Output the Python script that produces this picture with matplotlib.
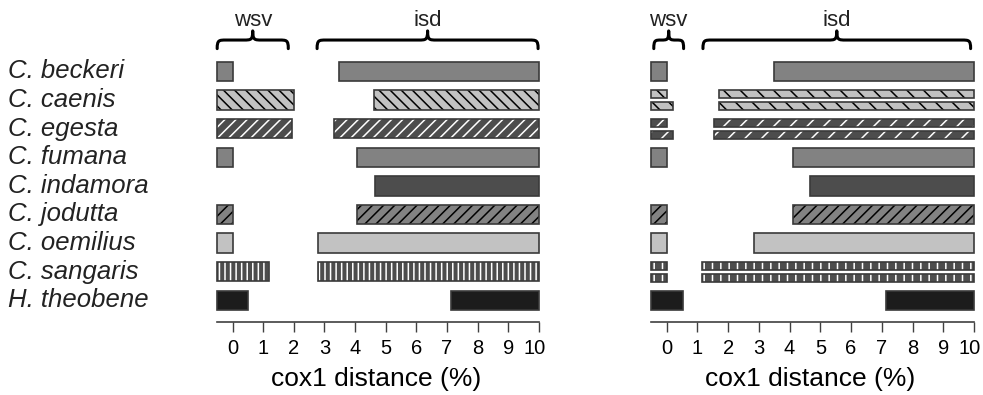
import numpy as np
import matplotlib
matplotlib.use("Agg")
import matplotlib.pyplot as plt
from matplotlib.path import Path
from matplotlib.patches import PathPatch
from matplotlib.transforms import blended_transform_factory, ScaledTranslation

plt.rcParams['font.family'] = ['Liberation Sans', 'DejaVu Sans']
plt.rcParams['hatch.linewidth'] = 1.1

# data
species = ["C. beckeri", "C. caenis", "C. egesta", "C. fumana", "C. indamora",
           "C. jodutta", "C. oemilius", "C. sangaris", "H. theobene"]
wsv_lo = -0.5
isd_hi = 10.0

# left panel: one bar per species
left_wsv_hi = [0.0, 2.02, 1.95, 0.0, np.nan, 0.0, 0.0, 1.19, 0.50]
left_isd_lo = [3.48, 4.63, 3.31, 4.07, 4.66, 4.07, 2.80, 2.80, 7.12]

# right panel: some species split into two sub-bars
right_wsv_hi = [[0.0], [0.0, 0.20], [0.0, 0.20], [0.0], [], [0.0], [0.0], [0.0, 0.0], [0.54]]
right_isd_lo = [[3.50], [1.70, 1.70], [1.54, 1.54], [4.10], [4.67], [4.10], [2.83],
                [1.16, 1.16], [7.13]]

# styles: face colour, hatch (left, right), hatch colour
faces = ["#828282", "#c2c2c2", "#4d4d4d", "#828282", "#4d4d4d",
         "#828282", "#c2c2c2", "#4d4d4d", "#1c1c1c"]
hatch_l = [None, "\\\\\\", "///", None, None, "///", None, "|||", None]
hatch_r = [None, "\\\\", "//", None, None, "///", None, "||", None]
hatch_c = [None, "black", "white", None, None, "black", None, "white", None]
edge = "#3a3a3a"

W, H = 983, 395
fig = plt.figure(figsize=(W / 100, H / 100), dpi=100)


def make_axes(left, right, x0px, scale):
    ax = fig.add_axes([left / W, 1 - 322 / H, (right - left) / W, (322 - 5) / H])
    ax.set_xlim((left - x0px) / scale, (right - x0px) / scale)
    ax.set_ylim(8.759, -2.325)
    for s in ["left", "top", "right"]:
        ax.spines[s].set_visible(False)
    ax.spines["bottom"].set_bounds(-0.5, 10)
    ax.spines["bottom"].set_color("#404040")
    ax.spines["bottom"].set_linewidth(1.2)
    ax.set_yticks([])
    ax.set_xticks(range(11))
    ax.tick_params(axis="x", length=7.5, width=1, color="#404040", labelsize=14.5, pad=5)
    ax.set_xlabel("cox1 distance (%)", fontsize=19, labelpad=6)
    return ax


def bar(ax, y, lo, hi, h, i, hatch):
    if hatch:
        ax.barh(y, hi - lo, left=lo, height=h, color=faces[i], edgecolor=hatch_c[i],
                hatch=hatch, linewidth=0)
        ax.barh(y, hi - lo, left=lo, height=h, fill=False, edgecolor=edge, linewidth=1.2)
    else:
        ax.barh(y, hi - lo, left=lo, height=h, color=faces[i], edgecolor=edge, linewidth=1.2)


def brace(ax, x0, x1, label, scale):
    yt, yl, yp = -0.80, -1.10, -1.42
    xm = (x0 + x1) / 2
    r = min(9 / scale, (xm - x0) / 2)
    verts = [(x0, yt), (x0, yl), (x0 + 0.2 * r, yl), (x0 + r, yl),
             (xm - r, yl),
             (xm - 0.2 * r, yl), (xm, yl), (xm, yp),
             (xm, yl), (xm + 0.2 * r, yl), (xm + r, yl),
             (x1 - r, yl),
             (x1 - 0.2 * r, yl), (x1, yl), (x1, yt)]
    codes = [Path.MOVETO, Path.CURVE4, Path.CURVE4, Path.CURVE4,
             Path.LINETO,
             Path.CURVE4, Path.CURVE4, Path.CURVE4,
             Path.CURVE4, Path.CURVE4, Path.CURVE4,
             Path.LINETO,
             Path.CURVE4, Path.CURVE4, Path.CURVE4]
    ax.add_patch(PathPatch(Path(verts, codes), fill=False, lw=2.2, color="black",
                           capstyle="round", joinstyle="round", clip_on=False))
    ax.text(xm, -1.80, label, ha="center", va="center", fontsize=16, color="#222222")


ax_l = make_axes(205, 548, 232.5, 30.65)
ax_r = make_axes(640, 980, 666.7, 30.73)

for i in range(len(species)):
    if not np.isnan(left_wsv_hi[i]):
        bar(ax_l, i, wsv_lo, left_wsv_hi[i], 0.68, i, hatch_l[i])
    bar(ax_l, i, left_isd_lo[i], isd_hi, 0.68, i, hatch_l[i])

    n = len(right_isd_lo[i])
    if n == 1:
        offs, h = [0.0], 0.68
    else:
        offs, h = [-0.21, 0.21], 0.29
    for k, v in enumerate(right_wsv_hi[i]):
        bar(ax_r, i + offs[k], wsv_lo, v, h, i, hatch_r[i])
    for k, v in enumerate(right_isd_lo[i]):
        bar(ax_r, i + offs[k], v, isd_hi, h, i, hatch_r[i])

brace(ax_l, -0.5, 1.82, "wsv", 30.65)
brace(ax_l, 2.76, 9.97, "isd", 30.65)
brace(ax_r, -0.42, 0.55, "wsv", 30.73)
brace(ax_r, 1.18, 9.89, "isd", 30.73)

tr = blended_transform_factory(fig.transFigure, ax_l.transData)
for i, name in enumerate(species):
    ax_l.text(8 / W, i, name, transform=tr, ha="left", va="center",
              fontsize=18.5, style="italic", color="#222222")

# the last "10" sits slightly left of its tick so it stays inside the figure
fig.canvas.draw()
for ax in (ax_l, ax_r):
    lab = ax.xaxis.get_major_ticks()[-1].label1
    lab.set_transform(lab.get_transform() + ScaledTranslation(-4 / 100, 0, fig.dpi_scale_trans))

plt.savefig("out.png", dpi=100)
